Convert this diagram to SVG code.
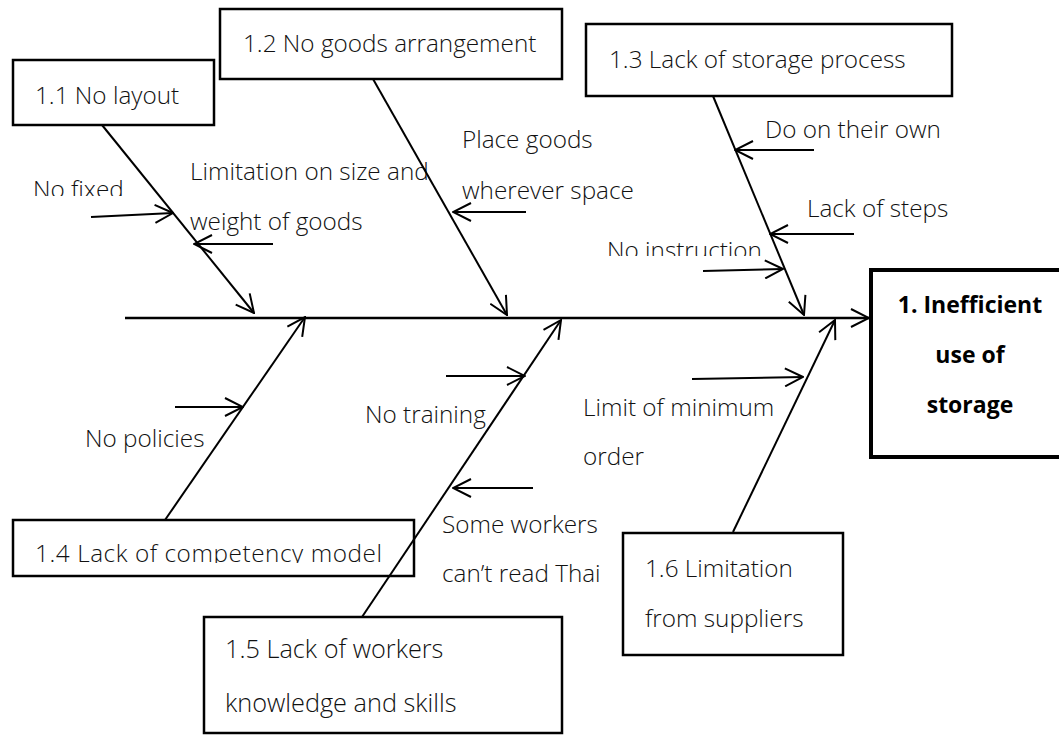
<svg xmlns="http://www.w3.org/2000/svg" width="1059" height="735" viewBox="0 0 1059 735">
  <style>
    .box { fill: #ffffff; stroke: #000000; stroke-width: 2.5; }
    .head { fill: #ffffff; stroke: #000000; stroke-width: 4; }
    .t { font-family: "Open Sans", "Noto Sans", sans-serif; font-size: 24.3px; font-weight: 300; fill: #111111; }
    .t24 { font-size: 25.3px; }
    .tb { font-family: "Open Sans", "Noto Sans", sans-serif; font-size: 23px; font-weight: bold; fill: #000000; text-anchor: middle; }
    .bone { stroke: #000000; stroke-width: 2; fill: none; marker-end: url(#arrow); }
    .spine { stroke: #000000; stroke-width: 2.5; fill: none; marker-end: url(#arrow); }
  </style>
  <defs>
    <marker id="arrow" viewBox="0 0 20 20" refX="19" refY="10" markerWidth="20" markerHeight="20" markerUnits="userSpaceOnUse" orient="auto">
      <path d="M1,1 L19,10 L1,19" fill="none" stroke="#000000" stroke-width="2"/>
    </marker>
    <clipPath id="clipFixed"><rect x="0" y="150" width="200" height="46"/></clipPath>
    <clipPath id="clipInstr"><rect x="590" y="220" width="200" height="36"/></clipPath>
    <clipPath id="clipComp"><rect x="15" y="522" width="398" height="41"/></clipPath>
  </defs>

  <rect width="1059" height="735" fill="#ffffff"/>

  <!-- main cause boxes -->
  <g id="node-1-1">
    <rect class="box" x="13" y="60" width="201" height="65"/>
    <text class="t" x="35" y="104">1.1 No layout</text>
  </g>
  <g id="node-1-2">
    <rect class="box" x="220" y="9" width="342" height="70"/>
    <text class="t" x="243" y="52">1.2 No goods arrangement</text>
  </g>
  <g id="node-1-3">
    <rect class="box" x="586" y="24" width="366" height="72"/>
    <text class="t" x="609" y="68">1.3 Lack of storage process</text>
  </g>
  <g id="node-1-4">
    <rect class="box" x="13" y="520" width="401" height="56"/>
    <text class="t" x="35" y="562" font-size="25" textLength="347" clip-path="url(#clipComp)">1.4 Lack of competency model</text>
  </g>
  <g id="node-1-5">
    <rect class="box" x="204" y="617" width="358" height="116"/>
    <text class="t t24" x="225" y="658">1.5 Lack of workers</text>
    <text class="t t24" x="225" y="712">knowledge and skills</text>
  </g>
  <g id="node-1-6">
    <rect class="box" x="623" y="533" width="220" height="122"/>
    <text class="t" x="645" y="577">1.6 Limitation</text>
    <text class="t" x="645" y="627">from suppliers</text>
  </g>
  <g id="node-1">
    <rect class="head" x="871" y="270" width="200" height="187"/>
    <text class="tb" x="970" y="313">1. Inefficient</text>
    <text class="tb" x="970" y="363">use of</text>
    <text class="tb" x="970" y="413">storage</text>
  </g>

  <!-- sub-cause labels -->
  <g id="sub-causes">
    <text class="t" x="33" y="198" clip-path="url(#clipFixed)">No fixed</text>
    <text class="t" x="190" y="180">Limitation on size and</text>
    <text class="t" x="190" y="230">weight of goods</text>
    <text class="t" x="462" y="148">Place goods</text>
    <text class="t" x="462" y="199">wherever space</text>
    <text class="t" x="765" y="138">Do on their own</text>
    <text class="t" x="807" y="217">Lack of steps</text>
    <text class="t" x="607" y="259" clip-path="url(#clipInstr)">No instruction</text>
    <text class="t" x="85" y="447">No policies</text>
    <text class="t" x="365" y="423">No training</text>
    <text class="t" x="583" y="416">Limit of minimum</text>
    <text class="t" x="583" y="465">order</text>
    <text class="t" x="442" y="533">Some workers</text>
    <text class="t" x="442" y="582">can’t read Thai</text>
  </g>

  <!-- connectors -->
  <g id="connectors">
    <line class="spine" x1="125" y1="318" x2="869" y2="318"/>
    <line class="bone" x1="102" y1="125" x2="254" y2="313"/>
    <line class="bone" x1="373" y1="79" x2="507" y2="315"/>
    <line class="bone" x1="713" y1="96" x2="804" y2="315"/>
    <line class="bone" x1="165" y1="520" x2="305" y2="317"/>
    <line class="bone" x1="362" y1="617" x2="561" y2="320"/>
    <line class="bone" x1="733" y1="532" x2="835" y2="320"/>

    <line class="bone" x1="91" y1="217" x2="173" y2="213"/>
    <line class="bone" x1="273" y1="244" x2="194" y2="244"/>
    <line class="bone" x1="526" y1="212" x2="453" y2="212"/>
    <line class="bone" x1="814" y1="150" x2="735" y2="150"/>
    <line class="bone" x1="854" y1="234" x2="770" y2="234"/>
    <line class="bone" x1="703" y1="271" x2="783" y2="269"/>
    <line class="bone" x1="175" y1="407" x2="243" y2="407"/>
    <line class="bone" x1="446" y1="376" x2="525" y2="376"/>
    <line class="bone" x1="692" y1="379" x2="803" y2="377"/>
    <line class="bone" x1="533" y1="488" x2="453" y2="488"/>
  </g>
</svg>
